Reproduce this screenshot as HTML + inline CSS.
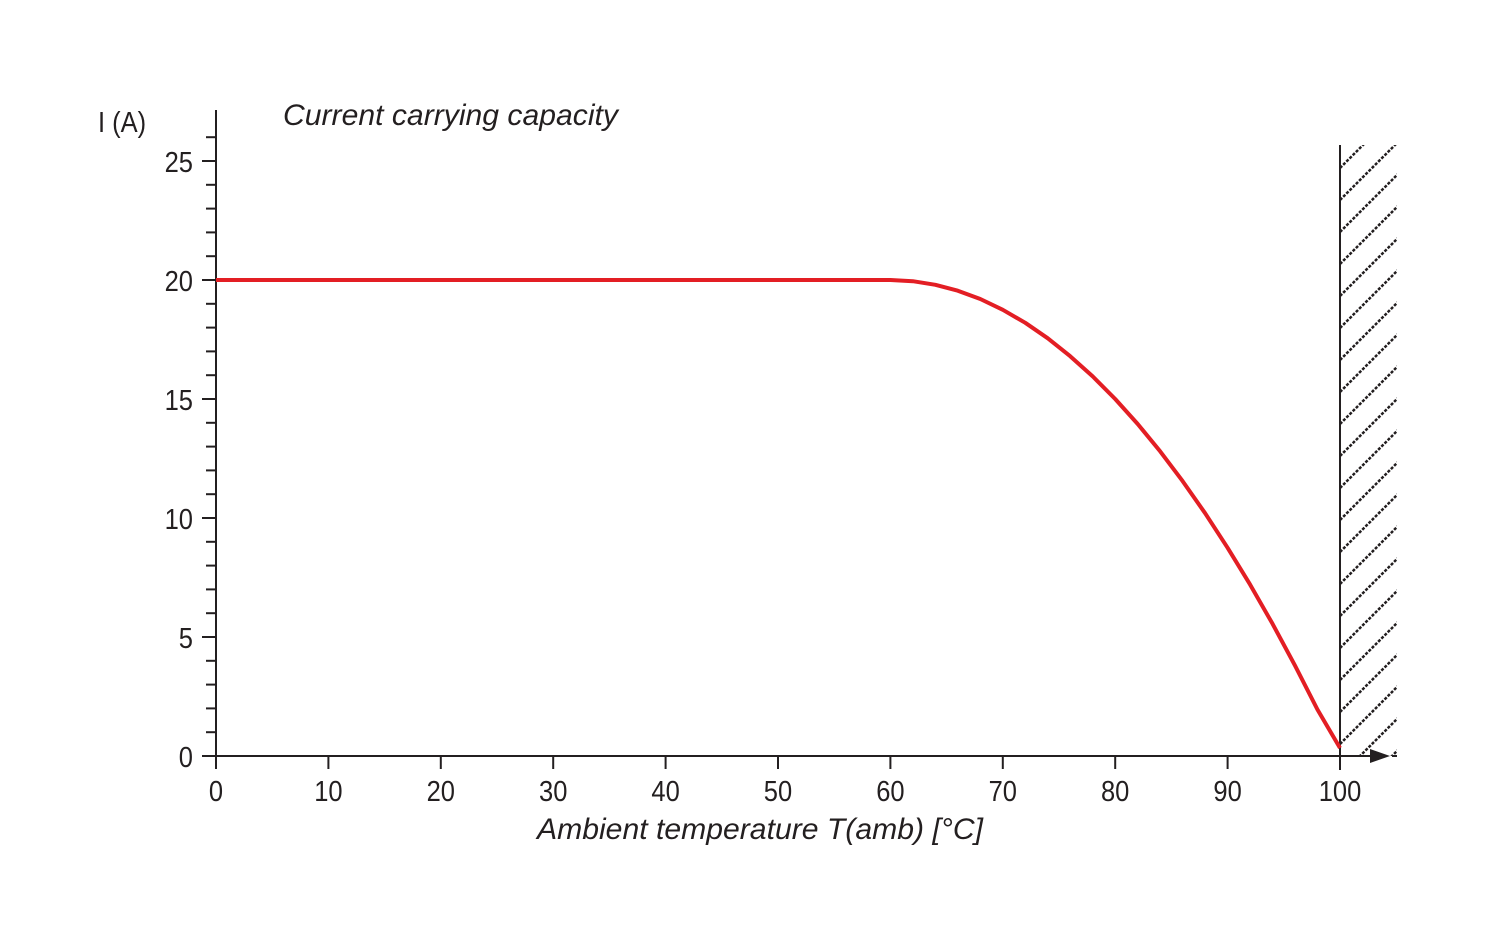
<!DOCTYPE html>
<html><head><style>
html,body{margin:0;padding:0;background:#fff;}
svg{display:block;}
text{font-family:"Liberation Sans",sans-serif;fill:#231f20;}
</style></head><body>
<svg width="1497" height="946" viewBox="0 0 1497 946" xmlns="http://www.w3.org/2000/svg">
<defs>
<clipPath id="hc"><rect x="1341" y="145" width="56" height="611"/></clipPath>
</defs>
<g stroke="#231f20" stroke-width="2" fill="none">
<line x1="216" y1="110" x2="216" y2="757"/>
<line x1="203" y1="756" x2="1372" y2="756"/>
<line x1="1340" y1="145" x2="1340" y2="770"/>
</g>
<polygon points="1370,749 1390,756 1370,763" fill="#231f20"/>
<line x1="1392" y1="756" x2="1397" y2="756" stroke="#231f20" stroke-width="2"/>
<g stroke="#231f20" stroke-width="2.5" stroke-dasharray="3,1.5" clip-path="url(#hc)" id="hatch"></g>
<g id="ticks" stroke="#231f20" stroke-width="2"></g>
<path d="M216,280 L890.4,280 L912.9,281.2 L935.4,284.8 L957.8,290.7 L980.3,299 L1002.8,309.8 L1025.3,322.8 L1047.8,338.3 L1070.2,356.2 L1092.7,376.4 L1115.2,399 L1137.7,424 L1160.2,451.4 L1182.6,481.1 L1205.1,513.2 L1227.6,547.8 L1250.1,584.6 L1272.6,623.9 L1295,665.6 L1317.5,709.6 L1340,748" fill="none" stroke="#e31e24" stroke-width="4" stroke-linejoin="round"/>
<g font-size="29" text-anchor="end" id="ylab">
<text x="193" y="767" transform="translate(193 0) scale(0.88 1) translate(-193 0)">0</text>
<text x="193" y="648" transform="translate(193 0) scale(0.88 1) translate(-193 0)">5</text>
<text x="193" y="529" transform="translate(193 0) scale(0.88 1) translate(-193 0)">10</text>
<text x="193" y="410" transform="translate(193 0) scale(0.88 1) translate(-193 0)">15</text>
<text x="193" y="291" transform="translate(193 0) scale(0.88 1) translate(-193 0)">20</text>
<text x="193" y="172" transform="translate(193 0) scale(0.88 1) translate(-193 0)">25</text>
</g>
<g font-size="29" text-anchor="middle" id="xlab"></g>
<text x="98" y="132" font-size="29" transform="translate(98 0) scale(0.88 1) translate(-98 0)">I (A)</text>
<text x="283" y="125" font-size="30" font-style="italic" textLength="335" lengthAdjust="spacingAndGlyphs">Current carrying capacity</text>
<text x="537" y="839" font-size="30" font-style="italic" textLength="446" lengthAdjust="spacingAndGlyphs">Ambient temperature T(amb) [°C]</text>
<script>
var ns="http://www.w3.org/2000/svg";
var t=document.getElementById("ticks");
function ln(g,a,b,c,d){var l=document.createElementNS(ns,"line");l.setAttribute("x1",a);l.setAttribute("y1",b);l.setAttribute("x2",c);l.setAttribute("y2",d);g.appendChild(l);}
for(var i=0;i<=26;i++){var y=756-23.8*i;ln(t,i%5==0?202:206,y,216,y);}
var xl=document.getElementById("xlab");
for(var k=0;k<=10;k++){var x=216+112.4*k;ln(t,x,756,x,769);
var tx=document.createElementNS(ns,"text");tx.setAttribute("x",x);tx.setAttribute("y",801);
tx.setAttribute("transform","translate("+x+" 0) scale(0.88 1) translate("+(-x)+" 0)");tx.textContent=String(k*10);xl.appendChild(tx);}
var h=document.getElementById("hatch");
for(var y0=136;y0<=820;y0+=32){ln(h,1340,y0,1400,y0-60);}
</script>
</svg>
</body></html>
